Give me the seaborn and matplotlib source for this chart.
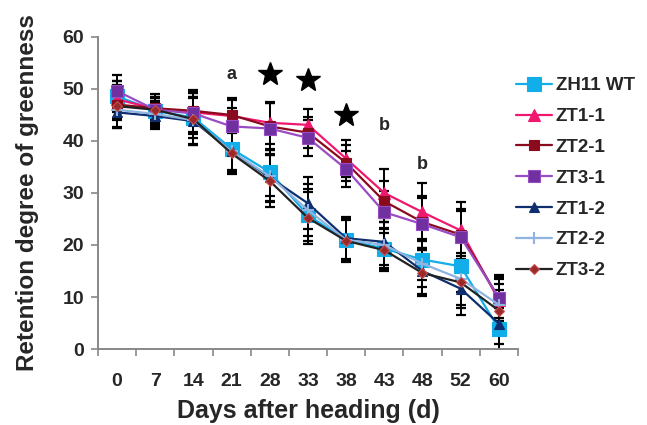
import numpy as np
import pandas as pd
import seaborn as sns
import matplotlib.pyplot as plt

days = ["0", "7", "14", "21", "28", "33", "38", "43", "48", "52", "60"]

series_names = ["ZH11 WT", "ZT1-1", "ZT2-1", "ZT3-1", "ZT1-2", "ZT2-2", "ZT3-2"]

wt = [48.6, 45.8, 44.5, 38.5, 34.0, 25.7, 21.0, 19.3, 17.2, 15.9, 3.9]
zt1_1 = [48.0, 46.2, 45.5, 44.8, 43.5, 43.1, 36.6, 30.0, 26.3, 22.8, 9.4]
zt2_1 = [47.0, 46.3, 45.8, 45.0, 42.8, 41.6, 35.8, 28.4, 24.4, 22.0, 9.8]
zt3_1 = [49.6, 46.0, 45.3, 42.8, 42.4, 40.6, 34.6, 26.3, 24.0, 21.5, 9.9]
zt1_2 = [45.5, 44.8, 43.8, 38.0, 33.0, 28.0, 21.3, 20.6, 15.0, 11.6, 4.9]
zt2_2 = [46.0, 45.2, 44.0, 38.0, 33.2, 26.7, 21.0, 20.0, 16.4, 13.5, 8.5]
zt3_2 = [46.7, 46.0, 44.2, 37.6, 32.3, 25.2, 20.8, 19.0, 14.6, 12.8, 7.4]

wt_sd = [3.0, 2.5, 4.0, 4.0, 4.5, 5.0, 4.0, 4.0, 4.0, 5.0, 4.0]
zt1_1_sd = [3.5, 2.0, 4.0, 3.0, 4.0, 3.0, 3.5, 4.6, 5.6, 5.5, 4.0]
zt2_1_sd = [3.0, 2.2, 4.0, 3.3, 4.5, 3.0, 3.5, 4.0, 5.0, 5.0, 4.5]
zt3_1_sd = [3.0, 2.5, 4.0, 3.5, 5.0, 3.5, 3.5, 4.0, 5.0, 5.0, 4.0]
zt1_2_sd = [3.0, 2.5, 4.5, 4.0, 4.5, 5.0, 4.0, 4.5, 4.5, 5.0, 4.0]
zt2_2_sd = [3.5, 2.5, 4.5, 4.0, 5.0, 5.0, 4.0, 4.5, 4.5, 5.0, 4.0]
zt3_2_sd = [4.0, 3.0, 5.0, 4.0, 5.0, 5.0, 4.0, 4.0, 4.4, 5.0, 4.0]

means = [wt, zt1_1, zt2_1, zt3_1, zt1_2, zt2_2, zt3_2]
sds = [wt_sd, zt1_1_sd, zt2_1_sd, zt3_1_sd, zt1_2_sd, zt2_2_sd, zt3_2_sd]

# significance marks: (day, height, text)
marks = [("21", 52.8, "a"), ("28", 52.8, "*"), ("33", 51.8, "*"),
         ("38", 45.0, "*"), ("43", 43.0, "b"), ("48", 35.4, "b")]

colors = ["#12AEEA", "#F0186E", "#8A0B1E", "#9A4CC4", "#0F2E6E", "#8FB4E0", "#222222"]
mfc = ["#12AEEA", "#F0186E", "#8A0B1E", "#7030A0", "#0F2E6E", "#8FB4E0", "#9A2A2A"]
markers = ["s", "^", "s", "s", "^", "+", "D"]
msizes = [10, 9, 7, 8, 7, 9, 5]

rows = []
for name, m in zip(series_names, means):
    for i, v in enumerate(m):
        rows.append({"series": name, "pos": i, "value": v})
df = pd.DataFrame(rows)

sns.set_style("ticks")
plt.rcParams["font.family"] = ["Liberation Sans", "DejaVu Sans"]
plt.rcParams["font.weight"] = "bold"

fig = plt.figure(figsize=(6.47, 4.25), dpi=100)
ax = fig.add_axes([0.1515, 0.1788, 0.649, 0.7342])

x = np.arange(len(days))
# error bars first, behind lines
for m, s in zip(means, sds):
    ax.errorbar(x, m, yerr=s, fmt="none", ecolor="black", elinewidth=1.4,
                capsize=3.5, capthick=1.6, zorder=1)

for k, name in enumerate(series_names):
    sub = df[df["series"] == name]
    sns.lineplot(data=sub, x="pos", y="value", ax=ax, color=colors[k],
                 marker=markers[k], markersize=msizes[k], markerfacecolor=mfc[k],
                 markeredgecolor=colors[k] if markers[k] != "D" else "#C85050",
                 markeredgewidth=1.5 if markers[k] == "+" else 0.8,
                 linewidth=1.6, label=name, zorder=3 + k * 0.1, errorbar=None)

for day, h, t in marks:
    pos = days.index(day)
    if t == "*":
        ax.plot(pos, h, marker="*", color="black", markersize=18, linestyle="none",
                zorder=5)
    else:
        ax.text(pos, h, t, ha="center", va="center", fontsize=13, fontweight="bold")

ax.set_xlim(-0.5, len(days) - 0.5)
ax.set_ylim(0, 60)
ax.set_yticks(range(0, 61, 10))
ax.set_xticks(x)
ax.set_xticklabels(days)
ax.set_xticks(np.arange(-0.5, len(days), 1.0), minor=True)
ax.tick_params(axis="x", which="major", length=0, pad=17, labelsize=14)
ax.tick_params(axis="x", which="minor", length=5, width=1.2, color="#888888")
ax.tick_params(axis="y", length=5, width=1.2, color="#888888", labelsize=14, pad=5)
for lab in ax.get_xticklabels() + ax.get_yticklabels():
    lab.set_fontweight("bold")

sns.despine(ax=ax)
for sp in ["left", "bottom"]:
    ax.spines[sp].set_color("#888888")
    ax.spines[sp].set_linewidth(1.4)

ax.set_xlabel("Days after heading (d)", fontsize=18, fontweight="bold", labelpad=7)
ax.set_ylabel("Retention degree of greenness", fontsize=17.5, fontweight="bold",
              labelpad=17)

ax.legend(loc="upper left", bbox_to_anchor=(0.978, 0.895), frameon=False,
          prop={"size": 13.5, "weight": "bold"}, handlelength=1.9, handletextpad=0.2,
          labelspacing=0.73, borderaxespad=0.0)

fig.savefig("out.png", dpi=100)
